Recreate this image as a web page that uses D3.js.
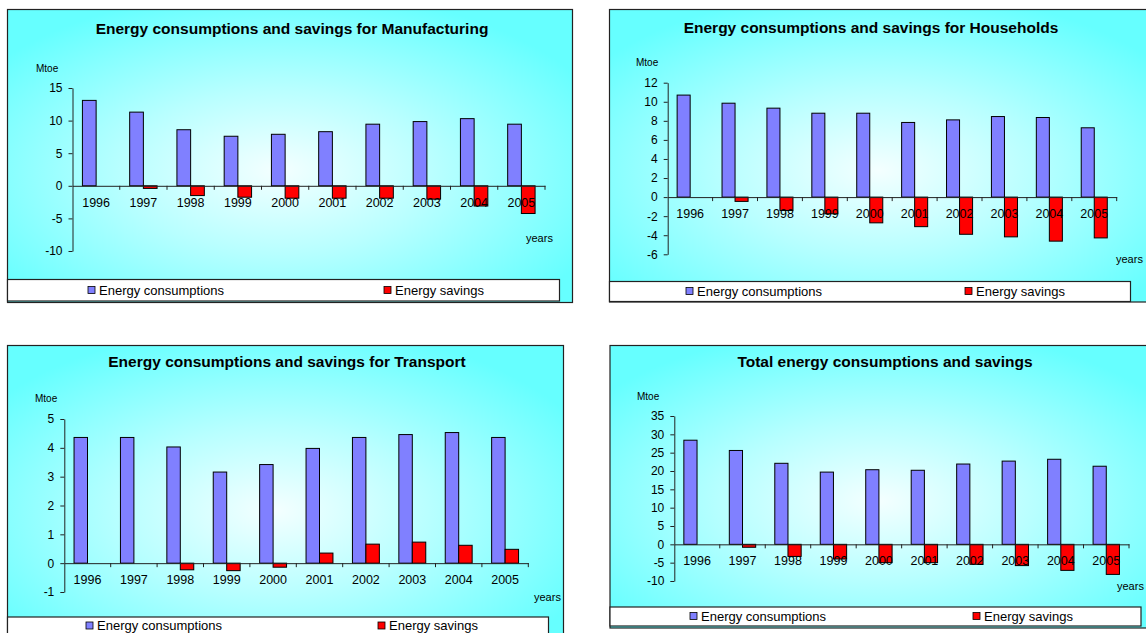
<!DOCTYPE html>
<html>
<head>
<meta charset="utf-8">
<script src="https://cdn.jsdelivr.net/npm/d3@7"></script>
<style>
  body { margin: 0; background: #fff; }
  text { font-family: "Liberation Sans", Arial, sans-serif; fill: #000; }
</style>
</head>
<body>
<div id="chart"></div>
<script>
// Data
var years = ["1996", "1997", "1998", "1999", "2000", "2001", "2002", "2003", "2004", "2005"];
var seriesNames = ["Energy consumptions", "Energy savings"];

var manufConsumption = [13.1, 11.3, 8.6, 7.6, 7.9, 8.3, 9.45, 9.85, 10.3, 9.45];
var manufSavings     = [0, -0.4, -1.5, -1.75, -1.9, -1.9, -1.9, -2.05, -3.1, -4.25];
var manufTicks = [15, 10, 5, 0, -5, -10];

var houseConsumption = [10.7, 9.85, 9.33, 8.8, 8.8, 7.83, 8.1, 8.45, 8.35, 7.27];
var houseSavings     = [0, -0.45, -1.4, -1.75, -2.7, -3.1, -3.9, -4.17, -4.62, -4.28];
var houseTicks = [12, 10, 8, 6, 4, 2, 0, -2, -4, -6];

var transConsumption = [4.36, 4.36, 4.03, 3.16, 3.42, 3.98, 4.36, 4.46, 4.53, 4.36];
var transSavings     = [0, 0, -0.23, -0.26, -0.14, 0.35, 0.66, 0.73, 0.62, 0.48];
var transTicks = [5, 4, 3, 2, 1, 0, -1];

var totalConsumption = [28.4, 25.6, 22.1, 19.7, 20.35, 20.2, 21.9, 22.7, 23.2, 21.3];
var totalSavings     = [0, -0.8, -3.3, -4.0, -5.0, -5.0, -5.45, -5.8, -7.1, -8.2];
var totalTicks = [35, 30, 25, 20, 15, 10, 5, 0, -5, -10];

// Layout of each panel
var panels = [
  {title: "Energy consumptions and savings for Manufacturing", cons: manufConsumption, sav: manufSavings, ticks: manufTicks,
   box: [7.5, 9.5, 565, 293], legend: [7.5, 279.5, 552, 21.5], legendX: [88, 384], legendY: 290,
   titleXY: [292, 29], mtoe: [36, 68], years: [526, 238],
   xr: [72.5, 545], yr: [88, 251]},
  {title: "Energy consumptions and savings for Households", cons: houseConsumption, sav: houseSavings, ticks: houseTicks,
   box: [609.5, 9.5, 560, 292.5], legend: [609.5, 281.5, 521, 20], legendX: [686, 965], legendY: 291,
   titleXY: [871, 28], mtoe: [636, 62], years: [1116, 259],
   xr: [667.7, 1116.7], yr: [82.7, 254.3]},
  {title: "Energy consumptions and savings for Transport", cons: transConsumption, sav: transSavings, ticks: transTicks,
   box: [7.5, 345.5, 556, 300], legend: [7.5, 617, 541, 30], legendX: [86, 378], legendY: 625.5,
   titleXY: [287, 362], mtoe: [35, 398], years: [534, 597],
   xr: [64.3, 528.3], yr: [419, 592]},
  {title: "Total energy consumptions and savings", cons: totalConsumption, sav: totalSavings, ticks: totalTicks,
   box: [610, 345.5, 560, 282.5], legend: [610, 607, 531, 19], legendX: [690, 973], legendY: 616,
   titleXY: [885, 362], mtoe: [637, 396], years: [1117, 586],
   xr: [674.3, 1129], yr: [416, 581]}
];

var colors = ["#8080FF", "#FF0000"];

var svg = d3.select("#chart").append("svg")
    .attr("width", 1146)
    .attr("height", 633);

var defs = svg.append("defs");
var grad = defs.append("radialGradient").attr("id", "bg")
    .attr("cx", "48%").attr("cy", "55%").attr("r", "62%");
grad.append("stop").attr("offset", "0%").attr("stop-color", "#F4FFFF");
grad.append("stop").attr("offset", "45%").attr("stop-color", "#B8FFFF");
grad.append("stop").attr("offset", "100%").attr("stop-color", "#66FFFF");

panels.forEach(function(p){
    var g = svg.append("g");

    // panel background
    g.append("rect")
        .attr("x", p.box[0]).attr("y", p.box[1])
        .attr("width", p.box[2]).attr("height", p.box[3])
        .attr("fill", "url(#bg)")
        .attr("stroke", "#222").attr("stroke-width", 1.2);

    // title
    g.append("text")
        .attr("x", p.titleXY[0]).attr("y", p.titleXY[1])
        .attr("dy", "0.35em")
        .attr("text-anchor", "middle")
        .style("font-size", "15.5px").style("font-weight", "bold")
        .text(p.title);

    g.append("text")
        .attr("x", p.mtoe[0]).attr("y", p.mtoe[1])
        .attr("dy", "0.35em")
        .style("font-size", "10px")
        .text("Mtoe");

    g.append("text")
        .attr("x", p.years[0]).attr("y", p.years[1])
        .attr("dy", "0.35em")
        .style("font-size", "11px")
        .text("years");

    var x = d3.scaleBand().domain(years).range(p.xr).padding(0);
    var y = d3.scaleLinear()
        .domain([d3.min(p.ticks), d3.max(p.ticks)])
        .range([p.yr[1], p.yr[0]]);
    var bw = x.bandwidth();
    var y0 = y(0);

    // bars
    [p.cons, p.sav].forEach(function(vals, si){
        g.append("g").selectAll("rect")
            .data(vals)
            .join("rect")
            .attr("x", function(d, i){ return x(years[i]) + (si === 0 ? 0.21 * bw : 0.5 * bw); })
            .attr("width", 0.29 * bw)
            .attr("y", function(d){ return d >= 0 ? y(d) : y0; })
            .attr("height", function(d){ return Math.abs(y(d) - y0); })
            .attr("fill", colors[si])
            .attr("stroke", "#000")
            .attr("stroke-width", function(d){ return d === 0 ? 0 : 1; });
    });

    // y axis
    var yAxis = d3.axisLeft(y).tickValues(p.ticks).tickSize(4).tickSizeOuter(0).tickPadding(6)
        .tickFormat(function(d){ return String(d); });
    var ya = g.append("g")
        .attr("transform", "translate(" + p.xr[0] + ",0)")
        .call(yAxis);
    ya.selectAll("text").style("font-size", "12px").attr("fill", "#000");
    ya.selectAll("line, path").attr("stroke", "#222");

    // x axis at zero
    var xAxis = d3.axisBottom(x).tickSize(0).tickPadding(12);
    var xa = g.append("g")
        .attr("transform", "translate(0," + y0 + ")")
        .call(xAxis);
    xa.select(".domain").attr("stroke", "#222");
    xa.selectAll("text").style("font-size", "12.5px").attr("fill", "#000");
    xa.selectAll(".bound")
        .data(years)
        .join("line")
        .attr("class", "bound")
        .attr("x1", function(d){ return x(d) + bw; })
        .attr("x2", function(d){ return x(d) + bw; })
        .attr("y1", 0).attr("y2", 4)
        .attr("stroke", "#222");

    // legend
    g.append("rect")
        .attr("x", p.legend[0]).attr("y", p.legend[1])
        .attr("width", p.legend[2]).attr("height", p.legend[3])
        .attr("fill", "#fff")
        .attr("stroke", "#222").attr("stroke-width", 1.2);

    seriesNames.forEach(function(name, si){
        g.append("rect")
            .attr("x", p.legendX[si]).attr("y", p.legendY - 3.5)
            .attr("width", 7).attr("height", 7)
            .attr("fill", colors[si])
            .attr("stroke", "#000").attr("stroke-width", 0.8);
        g.append("text")
            .attr("x", p.legendX[si] + 11).attr("y", p.legendY)
            .attr("dy", "0.35em")
            .style("font-size", "13px")
            .text(name);
    });
});
</script>
</body>
</html>
